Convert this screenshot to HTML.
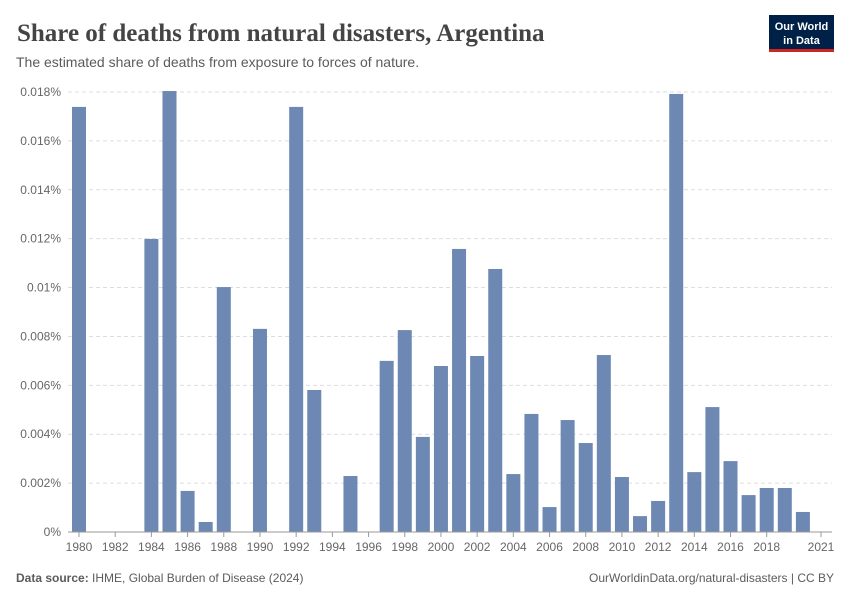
<!DOCTYPE html>
<html><head><meta charset="utf-8">
<style>
body{margin:0;background:#fff;width:850px;height:600px;overflow:hidden;font-family:"Liberation Sans",sans-serif;}
svg text{font-family:"Liberation Sans",sans-serif;}
</style></head>
<body>
<svg width="850" height="600">
<text x="17" y="41" font-size="25" fill="#444" font-weight="600" style="font-family:'Liberation Serif',serif">Share of deaths from natural disasters, Argentina</text>
<text x="16" y="67" font-size="14" fill="#5b5b5b">The estimated share of deaths from exposure to forces of nature.</text>
<g>
<rect x="769" y="15" width="65" height="36" fill="#002147"/>
<rect x="769" y="49" width="65" height="3" fill="#ce261e"/>
<text x="801.5" y="30" font-size="11" font-weight="bold" fill="#fff" text-anchor="middle">Our World</text>
<text x="801.5" y="44" font-size="11" font-weight="bold" fill="#fff" text-anchor="middle">in Data</text>
</g>
<g id="grid"></g>
<g id="bars"></g>
<g id="xaxis"></g>
<text x="16" y="582" font-size="12" fill="#5b5b5b"><tspan font-weight="bold">Data source:</tspan> IHME, Global Burden of Disease (2024)</text>
<text x="834" y="582" font-size="12" fill="#5b5b5b" text-anchor="end">OurWorldinData.org/natural-disasters | CC BY</text>
</svg>
<script>
const years=[1980,1981,1982,1983,1984,1985,1986,1987,1988,1989,1990,1991,1992,1993,1994,1995,1996,1997,1998,1999,2000,2001,2002,2003,2004,2005,2006,2007,2008,2009,2010,2011,2012,2013,2014,2015,2016,2017,2018,2019,2020];
const values=[0.01739,0,0,0,0.01199,0.01804,0.00168,0.00041,0.01002,0,0.00831,0,0.01739,0.00581,0,0.00229,0,0.0070,0.00826,0.00389,0.00679,0.01158,0.0072,0.01076,0.00237,0.00483,0.00102,0.00458,0.00364,0.00724,0.00225,0.00065,0.00127,0.01792,0.00245,0.00511,0.0029,0.00151,0.0018,0.0018,0.00082];
const yTicks=[0,0.002,0.004,0.006,0.008,0.01,0.012,0.014,0.016,0.018];
const yTickLabels=["0%","0.002%","0.004%","0.006%","0.008%","0.01%","0.012%","0.014%","0.016%","0.018%"];
const xTicks=[1980,1982,1984,1986,1988,1990,1992,1994,1996,1998,2000,2002,2004,2006,2008,2010,2012,2014,2016,2018,2021];
const NS="http://www.w3.org/2000/svg";
const y0=532,y1=92,yMax=0.018,xL=68,xR=832;
const ys=v=>y0-(v/yMax)*(y0-y1);
const xs=yr=>79+(yr-1980)*(821-79)/41;
function mk(t,a,p){const e=document.createElementNS(NS,t);for(const k in a)e.setAttribute(k,a[k]);p.appendChild(e);return e;}
const grid=document.getElementById('grid');
yTicks.forEach((v,i)=>{
 const l=mk('line',{x1:xL,x2:xR,y1:ys(v),y2:ys(v),stroke:'#ddd','stroke-dasharray':v===0?'none':'4,3'},grid);
 
 
 const t=mk('text',{x:61,y:ys(v)+4,'font-size':12,fill:'#666','text-anchor':'end'},grid);
 t.textContent=yTickLabels[i];
 
 
});
const bars=document.getElementById('bars');
years.forEach((yr,i)=>{
 const v=values[i]; if(v<=0)return;
 const r=mk('rect',{x:xs(yr)-7,y:ys(v),width:14,height:y0-ys(v),fill:'#6d88b3'},bars);
 
 
});
const xa=document.getElementById('xaxis');
const ax=mk('line',{x1:xL,x2:xR,y1:y0,y2:y0,stroke:'#999'},xa);


xTicks.forEach(yr=>{
 const tk=mk('line',{x1:xs(yr),x2:xs(yr),y1:y0,y2:y0+5,stroke:'#999'},xa);
 
 
 const t=mk('text',{x:xs(yr),y:y0+19,'font-size':12,fill:'#666','text-anchor':'middle'},xa);
 t.textContent=yr;
 
 
});
</script>
</body></html>
